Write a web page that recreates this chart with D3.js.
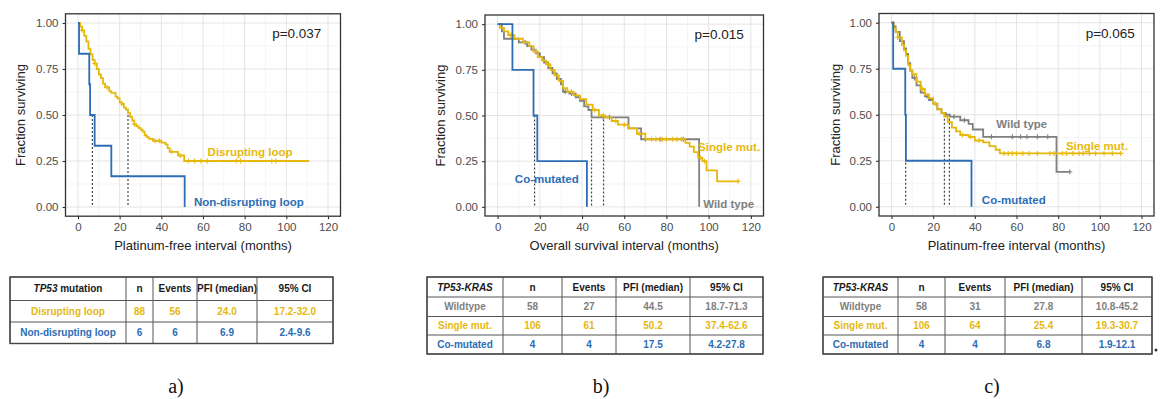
<!DOCTYPE html>
<html>
<head>
<meta charset="utf-8">
<script src="https://cdn.jsdelivr.net/npm/d3@7"></script>
<style>
  html, body { margin: 0; padding: 0; background: #fff; }
  svg { display: block; font-family: "Liberation Sans", Arial, sans-serif; }
</style>
</head>
<body>
<div id="viz-container"></div>
<script>
// --- dados ---
const xTicks = [0, 20, 40, 60, 80, 100, 120];
const yTicks = [0, 0.25, 0.5, 0.75, 1];
const yTickLabels = ['0.00', '0.25', '0.50', '0.75', '1.00'];

// painel a
const aDisruptTime = [0, 1, 2, 3, 4, 5, 6, 7, 8, 9, 10, 11, 12, 13, 15, 16, 18, 19, 20, 21, 22, 23, 24, 25, 26, 27, 28, 29, 30, 31, 32, 33, 34, 36, 40, 42, 43, 44, 48, 51, 111];
const aDisruptSurv = [1, .98, .96, .93, .90, .86, .83, .80, .78, .75, .72, .70, .67, .65, .63, .62, .60, .59, .57, .56, .54, .53, .51, .49, .47, .45, .44, .43, .42, .41, .39, .38, .37, .36, .35, .34, .32, .30, .28, .25, .25];
const aDisruptCens = [2, 8, 14, 21, 27, 37, 39, 45, 49, 53, 56, 59, 62, 76, 78, 93, 95];
const aNonTime = [0, 0.5, 5.4, 5.8, 8, 16, 51.2];
const aNonSurv = [1, .833, .667, .5, .333, .167, 0];
const aMedians = [6.9, 24.0];

// painel b
const bWildTime = [0, 2, 3, 10, 14, 16, 18, 20, 22, 24, 26, 28, 30, 31, 34, 37, 39, 41, 43, 44.5, 62, 68, 95.5];
const bWildSurv = [1, .96, .92, .90, .88, .86, .84, .82, .79, .76, .73, .70, .67, .63, .62, .60, .58, .55, .53, .49, .43, .37, 0];
const bWildCens = [13, 19, 27, 32, 35, 50, 53, 70, 77, 88];
const bSingleTime = [0, 1, 3, 5, 8, 12, 15, 17, 19, 21, 23, 25, 27, 29, 31, 33, 36, 39, 42, 45, 48, 51, 54, 57, 62, 66, 70, 89, 91, 93, 95, 97, 99, 104, 114];
const bSingleSurv = [1, .98, .96, .94, .92, .90, .88, .85, .82, .80, .78, .75, .72, .69, .65, .63, .61, .59, .56, .53, .50, .49, .47, .45, .43, .40, .37, .35, .33, .30, .27, .25, .20, .14, .14];
const bSingleCens = [6, 18, 24, 35, 46, 50, 56, 60, 67, 73, 75, 78, 80, 83, 85, 87, 96, 98, 114];
const bCoTime = [0, 7, 17, 18.8, 42.3];
const bCoSurv = [1, .75, .5, .25, 0];
const bMedians = [17.5, 44.5, 50.2];

// painel c
const cWildTime = [0, 1, 2, 4, 6, 7, 8, 9, 10, 12, 14, 16, 18, 20, 22, 24, 26, 28, 33, 37, 39, 44, 79.2, 85.6];
const cWildSurv = [1, .98, .95, .90, .86, .83, .78, .74, .70, .66, .62, .60, .58, .56, .53, .51, .50, .49, .47, .45, .42, .38, .19, .19];
const cWildCens = [11, 17, 30, 35, 48, 58, 62, 65, 70, 75, 85.6];
const cSingleTime = [0, 1, 2, 3, 5, 6, 7, 8, 9, 10, 12, 14, 16, 18, 20, 22, 24, 25.4, 27, 29, 31, 33, 37, 40, 44, 47, 50, 52, 110];
const cSingleSurv = [1, .97, .95, .92, .88, .85, .82, .77, .74, .72, .68, .64, .61, .59, .56, .53, .51, .49, .46, .43, .41, .39, .38, .36, .35, .33, .31, .29, .29];
const cSingleCens = [3, 15, 21, 34, 38, 42, 54, 56, 58, 60, 63, 66, 70, 76, 78, 82, 84, 87, 90, 92, 95, 98, 102, 106, 110];
const cCoTime = [0, 0.8, 6.6, 6.9, 38.4];
const cCoSurv = [1, .75, .5, .25, 0];
const cMedians = [6.8, 25.4, 27.8];

// tabelas
const tableAHeader = ['TP53| mutation', 'n', 'Events', 'PFI (median)', '95% CI'];
const tableARows = [
  ['Disrupting loop', '88', '56', '24.0', '17.2-32.0'],
  ['Non-disrupting loop', '6', '6', '6.9', '2.4-9.6']
];
const tableBHeader = ['TP53-KRAS|', 'n', 'Events', 'PFI (median)', '95% CI'];
const tableBRows = [
  ['Wildtype', '58', '27', '44.5', '18.7-71.3'],
  ['Single mut.', '106', '61', '50.2', '37.4-62.6'],
  ['Co-mutated', '4', '4', '17.5', '4.2-27.8']
];
const tableCHeader = ['TP53-KRAS|', 'n', 'Events', 'PFI (median)', '95% CI'];
const tableCRows = [
  ['Wildtype', '58', '31', '27.8', '10.8-45.2'],
  ['Single mut.', '106', '64', '25.4', '19.3-30.7'],
  ['Co-mutated', '4', '4', '6.8', '1.9-12.1']
];

// cores
const GOLD = '#e6b80e';
const BLUE = '#2c6db5';
const GREY = '#808080';

const svg = d3.select('#viz-container').append('svg')
  .attr('width', 1160).attr('height', 399);

const zip = (t, s) => t.map((d, i) => [d, s[i]]);
const survAt = (pts, t) => {
  let v = pts[0][1];
  pts.forEach(p => { if (p[0] <= t) v = p[1]; });
  return v;
};

const panels = [
  {
    box: [65.5, 13.8, 340.5, 216.2], yTitleX: 20, xTitle: 'Platinum-free interval (months)',
    curves: [
      { pts: zip(aDisruptTime, aDisruptSurv), cens: aDisruptCens, color: GOLD },
      { pts: zip(aNonTime, aNonSurv), cens: [], color: BLUE }
    ],
    medians: aMedians, p: 'p=0.037',
    labels: [
      { text: 'Disrupting loop', t: 82.6, s: 0.30, color: GOLD },
      { text: 'Non-disrupting loop', t: 82, s: 0.027, color: BLUE }
    ]
  },
  {
    box: [485, 15, 763.5, 216], yTitleX: 440, xTitle: 'Overall survival interval (months)',
    curves: [
      { pts: zip(bWildTime, bWildSurv), cens: bWildCens, color: GREY },
      { pts: zip(bSingleTime, bSingleSurv), cens: bSingleCens, color: GOLD },
      { pts: zip(bCoTime, bCoSurv), cens: [], color: BLUE }
    ],
    medians: bMedians, p: 'p=0.015',
    labels: [
      { text: 'Single mut.', t: 109.7, s: 0.33, color: GOLD },
      { text: 'Co-mutated', t: 23.3, s: 0.15, color: BLUE },
      { text: 'Wild type', t: 109.5, s: 0.016, color: GREY }
    ]
  },
  {
    box: [879, 13.5, 1154, 216], yTitleX: 835, xTitle: 'Platinum-free interval (months)',
    curves: [
      { pts: zip(cWildTime, cWildSurv), cens: cWildCens, color: GREY },
      { pts: zip(cSingleTime, cSingleSurv), cens: cSingleCens, color: GOLD },
      { pts: zip(cCoTime, cCoSurv), cens: [], color: BLUE }
    ],
    medians: cMedians, p: 'p=0.065',
    labels: [
      { text: 'Wild type', t: 62.5, s: 0.45, color: GREY },
      { text: 'Single mut.', t: 98.6, s: 0.33, color: GOLD },
      { text: 'Co-mutated', t: 58.7, s: 0.036, color: BLUE }
    ]
  }
];

panels.forEach(pn => {
  const [l, t, r, b] = pn.box;
  const x = d3.scaleLinear().domain([-6, 126]).range([l, r]);
  const y = d3.scaleLinear().domain([-0.05, 1.05]).range([b, t]);
  const g = svg.append('g');

  // grid menor e maior
  const minorX = d3.range(10, 120, 20), minorY = [0.125, 0.375, 0.625, 0.875];
  g.selectAll('.mx').data(minorX).enter().append('line')
    .attr('x1', d => x(d)).attr('x2', d => x(d)).attr('y1', t).attr('y2', b)
    .style('stroke', '#f3f3f3').style('stroke-width', 0.8);
  g.selectAll('.my').data(minorY).enter().append('line')
    .attr('y1', d => y(d)).attr('y2', d => y(d)).attr('x1', l).attr('x2', r)
    .style('stroke', '#f3f3f3').style('stroke-width', 0.8);
  g.selectAll('.gx').data(xTicks).enter().append('line')
    .attr('x1', d => x(d)).attr('x2', d => x(d)).attr('y1', t).attr('y2', b)
    .style('stroke', '#e4e4e4').style('stroke-width', 1);
  g.selectAll('.gy').data(yTicks).enter().append('line')
    .attr('y1', d => y(d)).attr('y2', d => y(d)).attr('x1', l).attr('x2', r)
    .style('stroke', '#e4e4e4').style('stroke-width', 1);

  // eixos
  const xAxis = g.append('g').attr('transform', `translate(0,${b})`)
    .call(d3.axisBottom(x).tickValues(xTicks).tickSize(3).tickPadding(4));
  const yAxis = g.append('g').attr('transform', `translate(${l},0)`)
    .call(d3.axisLeft(y).tickValues(yTicks).tickFormat((d, i) => yTickLabels[i]).tickSize(3).tickPadding(4));
  [xAxis, yAxis].forEach(a => {
    a.select('.domain').remove();
    a.selectAll('line').style('stroke', '#333').style('stroke-width', 1.1);
    a.selectAll('text').style('font-size', '11.5px').style('fill', '#4d4d4d')
      .style('font-family', '"Liberation Sans", Arial, sans-serif');
  });

  // medianas
  g.selectAll('.med').data(pn.medians).enter().append('line')
    .attr('x1', d => x(d)).attr('x2', d => x(d)).attr('y1', y(0.5)).attr('y2', y(0))
    .style('stroke', '#444').style('stroke-width', 1.2).style('stroke-dasharray', '2,2');

  // curvas
  const line = d3.line().x(d => x(d[0])).y(d => y(d[1])).curve(d3.curveStepAfter);
  pn.curves.forEach(c => {
    g.append('path').attr('d', line(c.pts))
      .style('fill', 'none').style('stroke', c.color).style('stroke-width', 1.8);
    c.cens.forEach(ct => {
      const cx = x(ct), cy = y(survAt(c.pts, ct));
      g.append('path').attr('d', `M${cx - 2.5},${cy}H${cx + 2.5}M${cx},${cy - 2.5}V${cy + 2.5}`)
        .style('stroke', c.color).style('stroke-width', 1.1);
    });
  });

  // textos
  pn.labels.forEach(lb => {
    g.append('text').attr('x', x(lb.t)).attr('y', y(lb.s)).attr('dy', '0.35em')
      .attr('text-anchor', 'middle').style('font-size', '11.5px').style('font-weight', 'bold')
      .style('fill', lb.color).text(lb.text);
  });
  g.append('text').attr('x', x(105)).attr('y', y(0.945)).attr('dy', '0.35em')
    .attr('text-anchor', 'middle').style('font-size', '13.5px').style('fill', '#222').text(pn.p);

  // borda do painel
  g.append('rect').attr('x', l).attr('y', t).attr('width', r - l).attr('height', b - t)
    .style('fill', 'none').style('stroke', '#333').style('stroke-width', 1.3);

  // títulos dos eixos
  g.append('text').attr('x', (l + r) / 2).attr('y', 245).attr('dy', '0.35em')
    .attr('text-anchor', 'middle').style('font-size', '13px').style('fill', '#222').text(pn.xTitle);
  g.append('text').attr('transform', `translate(${pn.yTitleX},${(t + b) / 2}) rotate(-90)`)
    .attr('dy', '0.35em').attr('text-anchor', 'middle')
    .style('font-size', '13px').style('fill', '#222').text('Fraction surviving');
});

// --- tabelas ---
const tables = [
  { xs: [10, 126, 153, 197, 257, 333], ys: [277, 300.5, 322, 343.5], header: tableAHeader, rows: tableARows, colors: [GOLD, BLUE] },
  { xs: [427, 503, 562, 616, 690, 763], ys: [277, 297, 316.5, 335, 354], header: tableBHeader, rows: tableBRows, colors: [GREY, GOLD, BLUE] },
  { xs: [823, 898, 945, 1005, 1082, 1152], ys: [277, 297, 316.5, 335, 354], header: tableCHeader, rows: tableCRows, colors: [GREY, GOLD, BLUE] }
];

tables.forEach(tb => {
  const g = svg.append('g');
  const allRows = [tb.header].concat(tb.rows);
  allRows.forEach((row, ri) => {
    const cy = (tb.ys[ri] + tb.ys[ri + 1]) / 2;
    row.forEach((cell, ci) => {
      const cx = (tb.xs[ci] + tb.xs[ci + 1]) / 2;
      const txt = g.append('text').attr('x', cx).attr('y', cy).attr('dy', '0.35em')
        .attr('text-anchor', 'middle').style('font-size', '10px').style('font-weight', 'bold')
        .style('fill', ri === 0 ? '#1a1a1a' : tb.colors[ri - 1]);
      if (cell.includes('|')) {
        const [it, rest] = cell.split('|');
        txt.append('tspan').style('font-style', 'italic').text(it);
        if (rest) txt.append('tspan').text(rest);
      } else {
        txt.text(cell);
      }
    });
  });
  // linhas da tabela
  tb.ys.forEach(yy => {
    g.append('line').attr('x1', tb.xs[0]).attr('x2', tb.xs[tb.xs.length - 1]).attr('y1', yy).attr('y2', yy)
      .style('stroke', '#555').style('stroke-width', 1);
  });
  tb.xs.forEach(xx => {
    g.append('line').attr('x1', xx).attr('x2', xx).attr('y1', tb.ys[0]).attr('y2', tb.ys[tb.ys.length - 1])
      .style('stroke', '#555').style('stroke-width', 1);
  });
  g.append('rect').attr('x', tb.xs[0]).attr('y', tb.ys[0])
    .attr('width', tb.xs[tb.xs.length - 1] - tb.xs[0]).attr('height', tb.ys[tb.ys.length - 1] - tb.ys[0])
    .style('fill', 'none').style('stroke', '#444').style('stroke-width', 1.4);
});

svg.append('circle').attr('cx', 1156).attr('cy', 350).attr('r', 1.5).style('fill', '#333');

// legendas a) b) c)
const captions = ['a)', 'b)', 'c)'];
const captionX = [176, 601, 992];
svg.selectAll('.cap').data(captions).enter().append('text')
  .attr('x', (d, i) => captionX[i]).attr('y', 393).attr('text-anchor', 'middle')
  .style('font-family', '"Liberation Serif", "Times New Roman", serif').style('font-size', '20px')
  .style('fill', '#111').text(d => d);
</script>
</body>
</html>
